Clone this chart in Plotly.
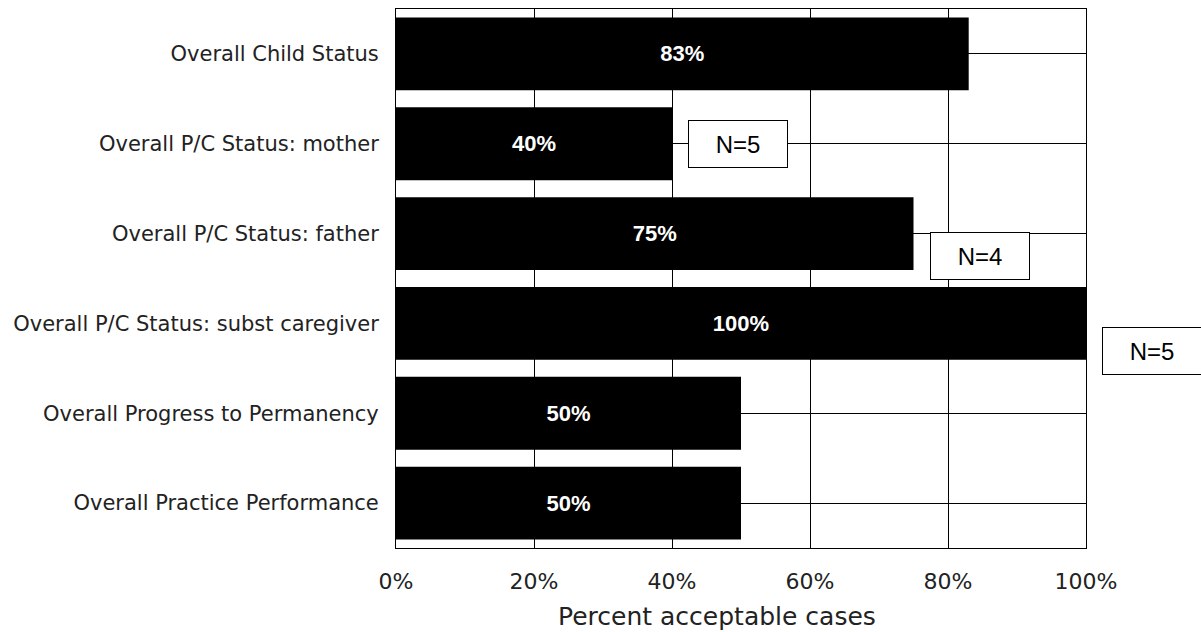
import plotly.graph_objects as go

# Outcome categories, top to bottom
categories = [
    "Overall Child Status",
    "Overall P/C Status: mother",
    "Overall P/C Status: father",
    "Overall P/C Status: subst caregiver",
    "Overall Progress to Permanency",
    "Overall Practice Performance",
]
# Percent of acceptable cases per category
percent_acceptable = [83, 40, 75, 100, 50, 50]
# Number of cases noted beside selected bars
case_counts = [None, 5, 4, 5, None, None]
x_ticks = [0, 20, 40, 60, 80, 100]

fig = go.Figure(
    go.Bar(
        y=categories,
        x=percent_acceptable,
        orientation="h",
        marker=dict(color="black", line=dict(width=0)),
        text=[f"{v}%" for v in percent_acceptable],
        textposition="inside",
        insidetextanchor="middle",
        constraintext="none",
        textfont=dict(family="Liberation Sans, Arial", size=22, color="white", weight="bold"),
        cliponaxis=False,
    )
)

# "N=" boxes sit just past the end of their bars
label_yshift = [0, 0, -22, -28, 0, 0]
for cat, val, n, dy in zip(categories, percent_acceptable, case_counts, label_yshift):
    if n is None:
        continue
    fig.add_annotation(
        x=val, y=cat, xref="x", yref="y",
        text=f"N={n}",
        showarrow=False,
        xanchor="center", yanchor="middle",
        xshift=66, yshift=dy,
        width=98, height=46,
        bgcolor="white", bordercolor="black", borderwidth=1, borderpad=0,
        font=dict(family="Liberation Sans, Arial", size=24, color="black"),
    )

# Axis title, placed as an annotation below the tick labels
fig.add_annotation(
    x=0.465, y=0, xref="paper", yref="paper",
    yanchor="top", xanchor="center", yshift=-52,
    text="Percent acceptable cases", showarrow=False,
    font=dict(family="DejaVu Sans", size=25, color="#222"),
)

fig.update_layout(
    width=1201, height=632,
    margin=dict(l=396, r=115, t=9, b=84),
    paper_bgcolor="white", plot_bgcolor="white",
    bargap=0.19,
    showlegend=False,
)
fig.update_xaxes(
    range=[0, 100],
    tickvals=x_ticks,
    ticktext=[f"{t}%" for t in x_ticks],
    showgrid=True, gridcolor="black", gridwidth=1,
    showline=True, linecolor="black", linewidth=1, mirror=True,
    zeroline=False,
    ticks="", ticklabelstandoff=14,
    tickfont=dict(family="DejaVu Sans", size=22, color="#222"),
)
fig.update_yaxes(
    categoryorder="array", categoryarray=categories,
    autorange="reversed",
    showgrid=True, gridcolor="black", gridwidth=1,
    showline=True, linecolor="black", linewidth=1, mirror=True,
    zeroline=False,
    ticks="", ticklabelstandoff=12,
    tickfont=dict(family="DejaVu Sans", size=21, color="#222"),
)

fig.write_html("out.html")
